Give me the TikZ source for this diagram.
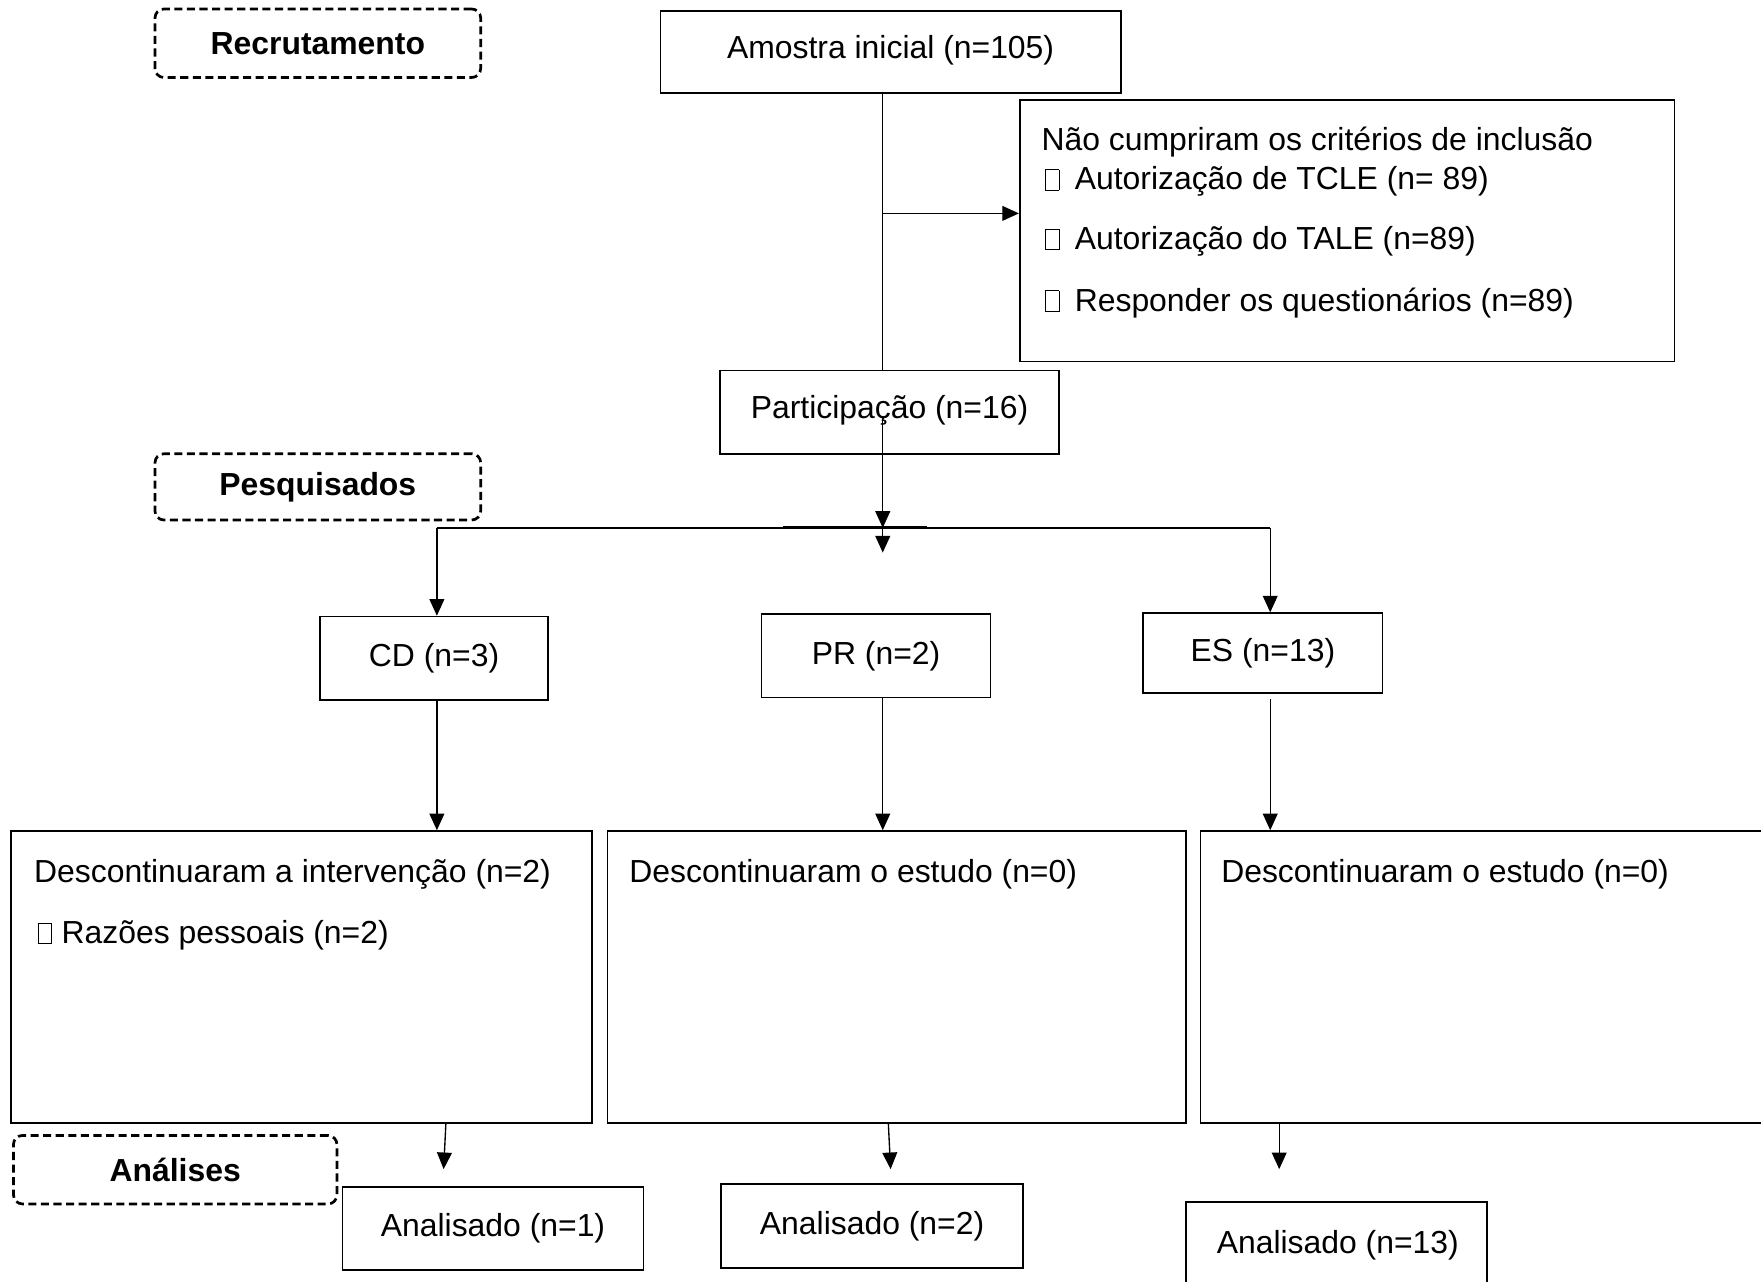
\documentclass[tikz,border=0pt]{standalone}
\usepackage{fontspec}
\setmainfont{Liberation Sans}
\usetikzlibrary{arrows.meta,fit}
\newcommand\tofubox[1]{{\setlength\fboxsep{0pt}\setlength\fboxrule{0.4pt}\fbox{\rule{0pt}{0.62em}\hspace{0.40em}}}\hspace{#1}}
\begin{document}
\begin{tikzpicture}[x=0.5pt,y=-0.5pt,
  font=\fontsize{14.2}{17}\selectfont,
  box/.style={draw, line width=0.75pt, inner sep=0pt},
  tag/.style={draw, dash pattern=on 3.6pt off 2pt, rounded corners=4pt, line width=1.2pt, inner sep=0pt},
  bold/.style={font=\fontsize{14.2}{17}\selectfont\bfseries},
  txt/.style={anchor=base west, inner sep=0pt},
  conn/.style={line width=0.6pt},
  arr/.style={conn, -{Triangle[length=7.4pt,width=6.6pt]}}]
\useasboundingbox (0,0) rectangle (1568,1141);
\clip (0,0) rectangle (1568,1141);

% stage tags
\node[tag, fit={(138,8) (428,69)}, label={[bold]center:Recrutamento}] (recr) {};
\node[tag, fit={(138,404) (428,463)}, label={[bold]center:Pesquisados}] (pesq) {};
\node[tag, fit={(12,1011) (300,1072)}, label={[bold]center:Análises}] (anal) {};

% boxes
\node[box, fit={(588,10) (998,83)}, label={[yshift=1pt]center:Amostra inicial (n=105)}] (amostra) {};
\node[box, fit={(908,89) (1491,322)}] (crit) {};
\node[txt] (c0) at (927,134) {Não cumpriram os critérios de inclusão};
\node[txt] (c1) at (930,169) {\tofubox{0.48em}Autorização de TCLE (n= 89)};
\node[txt] (c2) at (930,222) {\tofubox{0.48em}Autorização do TALE (n=89)};
\node[txt] (c3) at (930,277) {\tofubox{0.48em}Responder os questionários (n=89)};
\node[box, fit={(641,330) (943,404)}, label={[yshift=1pt]center:Participação (n=16)}] (part) {};

\node[box, fit={(285,549) (488,623)}, label={center:CD (n=3)}] (cd) {};
\node[box, fit={(678,547) (882,621)}, label={center:PR (n=2)}] (pr) {};
\node[box, fit={(1018,546) (1231,617)}, label={center:ES (n=13)}] (es) {};

\node[box, fit={(10,740) (527,1000)}] (d1) {};
\node[box, fit={(541,740) (1056,1000)}] (d2) {};
\node[box, fit={(1069,740) (1585,1000)}] (d3) {};
\node[txt] (d1a) at (30,786) {Descontinuaram a intervenção (n=2)};
\node[txt] (d1b) at (33,840) {\tofubox{0.3em}Razões pessoais (n=2)};
\node[txt] (d2a) at (560,786) {Descontinuaram o estudo (n=0)};
\node[txt] (d3a) at (1087,786) {Descontinuaram o estudo (n=0)};

\node[box, fit={(305,1057) (573,1131)}, label={center:Analisado (n=1)}] (a1) {};
\node[box, fit={(642,1054) (911,1129)}, label={center:Analisado (n=2)}] (a2) {};
\node[box, fit={(1056,1070) (1324,1145)}] (a3) {};
\node[txt] (a3t) at (1083,1116) {Analisado (n=13)};

% connectors
\coordinate (tx) at (786,470);
\coordinate (ha) at (786,190);
\coordinate (pin) at (786,372);
\coordinate (hl) at (389,470);
\coordinate (hr) at (1131,470);
\coordinate (bl) at (697,470);
\coordinate (br) at (825,470);
\coordinate (stub) at (786,492);

\draw[conn] (amostra.south -| tx) -- (part.north -| tx);
\draw[arr] (ha) -- (ha -| crit.west);
\draw[arr] (pin) -- (tx);
\draw[conn, line width=0.8pt] (hl) -- (hr);
\draw[line width=1.3pt] (bl) -- (br);
\draw[arr] (tx) -- (stub);
\draw[arr] (hl) -- (hl |- cd.north);
\draw[arr] (hr) -- (hr |- es.north);

\draw[arr] (cd.south -| hl) -- (hl |- d1.north);
\draw[arr] (pr.south -| tx) -- (tx |- d2.north);
\draw[arr] ([yshift=-2.5pt]es.south -| hr) -- (hr |- d3.north);

\coordinate (b1s) at (397,1001);
\coordinate (b1e) at (395,1041);
\coordinate (b2s) at (791,1001);
\coordinate (b2e) at (793,1041);
\coordinate (b3s) at (1139,1001);
\coordinate (b3e) at (1139,1041);
\draw[arr] (d1.south -| b1s) -- (b1e);
\draw[arr] (d2.south -| b2s) -- (b2e);
\draw[arr] (d3.south -| b3s) -- (b3e);
\end{tikzpicture}
\end{document}
